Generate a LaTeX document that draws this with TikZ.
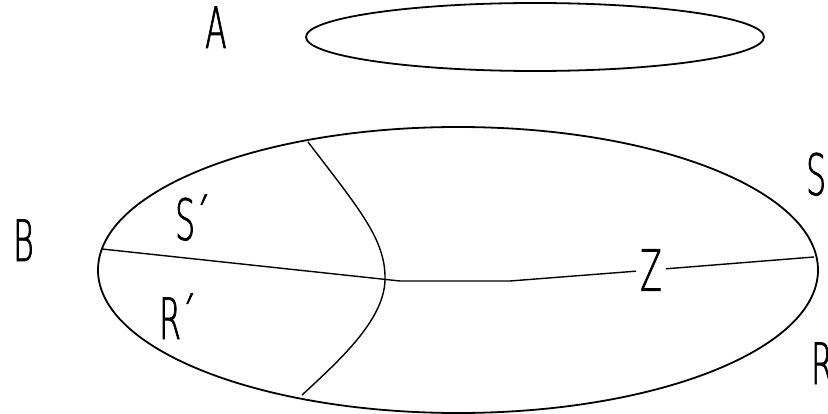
\documentclass[tikz,border=0pt]{standalone}
\usepackage{fontspec}
\newfontfamily\plotfont[FakeStretch=0.55, FakeBold=1.2]{DejaVu Sans ExtraLight}

\begin{document}
\begin{tikzpicture}[
	x=1pt, y=-1pt,
	bordo/.style={line width=1.8pt, black},
	linea/.style={line width=1.4pt, black, line join=round},
	lab/.style={font=\plotfont\fontsize{57}{57}\selectfont, inner sep=0pt, anchor=base west},
	]
	
	\useasboundingbox (0,0) rectangle (828,414);
	
	%%=== ellisse superiore ===
	\draw[bordo] (535,37) ellipse [x radius=229pt, y radius=34pt];
	\node[lab] (labA) at (205,48) {A};
	
	%%=== ellisse inferiore ===
	\draw[bordo] (458,270) ellipse [x radius=360pt, y radius=143pt];
	
	% estremi delle linee sul bordo
	\coordinate (eqW) at (102,249);
	\coordinate (eqE) at (814,257);
	\coordinate (merN) at (308,142);
	\coordinate (merX) at (385,280);
	\coordinate (merS) at (302,395);
	
	% linea trasversale, interrotta da Z
	\node[font=\plotfont\fontsize{57}{57}\selectfont, inner sep=4pt] (labZ) at (651,270) {Z};
	\draw[linea] (eqW) -- (400,281) -- (510,281) -- (labZ);
	\draw[linea] (labZ) -- (eqE);
	
	% meridiano
	\draw[linea] (merN) .. controls (360,210) and (386,240) .. (merX)
		.. controls (384,320) and (340,360) .. (merS);
	
	% etichette
	\node[lab] (labB) at (13,261) {B};
	\node[lab] (labSp) at (175,240) {S´};
	\node[lab] (labRp) at (159,339) {R´};
	\node[lab] (labS) at (806,195) {S};
	\node[lab] (labR) at (811,384) {R};
	
\end{tikzpicture}
\end{document}
